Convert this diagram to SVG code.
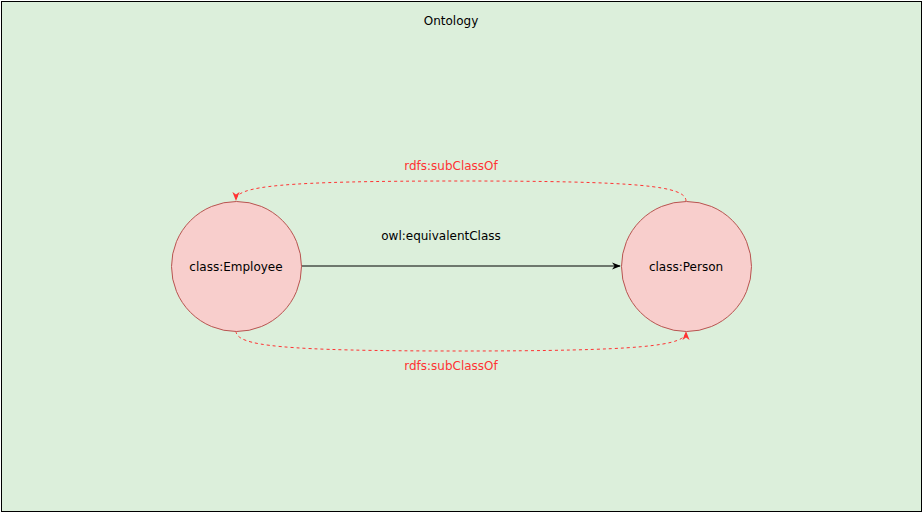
<svg xmlns="http://www.w3.org/2000/svg" width="924" height="514" viewBox="0 0 924 514">
<style>
text{font-family:"DejaVu Sans",sans-serif;font-size:12px;text-anchor:middle;dominant-baseline:central}
.node{fill:#f8cecc;stroke:#b85450;stroke-width:1}
.sub{fill:none;stroke:#ff3333;stroke-width:1;stroke-dasharray:3 3}
</style>
<defs>
<marker id="ab" viewBox="0 0 10 10" refX="9" refY="5" markerWidth="9" markerHeight="9" markerUnits="userSpaceOnUse" orient="auto"><path d="M0,1 L10,5 L0,9 L3,5 Z" fill="#000"/></marker>
<marker id="ar" viewBox="0 0 10 10" refX="9" refY="5" markerWidth="9" markerHeight="9" markerUnits="userSpaceOnUse" orient="auto"><path d="M0,1 L10,5 L0,9 L3,5 Z" fill="#ff3333"/></marker>
</defs>
<g id="container">
<rect x="1.5" y="1.5" width="920" height="510" fill="#dcefdb" stroke="#000" stroke-width="1"/>
<text x="451" y="21" fill="#000">Ontology</text>
</g>
<g id="connectors">
<path class="sub" d="M686,201 C686,186 640,181 461,181 C282,181 236,186 236,200" marker-end="url(#ar)"/>
<path class="sub" d="M236,331 C236,346 282,351 461,351 C640,351 686,346 686,332" marker-end="url(#ar)"/>
<line x1="301" y1="266" x2="620" y2="266" stroke="#000" stroke-width="1" marker-end="url(#ab)"/>
<text x="451" y="166" fill="#ff3333">rdfs:subClassOf</text>
<text x="451" y="366" fill="#ff3333">rdfs:subClassOf</text>
<text x="441" y="236" fill="#000">owl:equivalentClass</text>
</g>
<g id="employee">
<circle class="node" cx="236.5" cy="266.5" r="65"/>
<text x="236" y="267" fill="#000">class:Employee</text>
</g>
<g id="person">
<circle class="node" cx="686.5" cy="266.5" r="65"/>
<text x="686" y="267" fill="#000">class:Person</text>
</g>
</svg>
